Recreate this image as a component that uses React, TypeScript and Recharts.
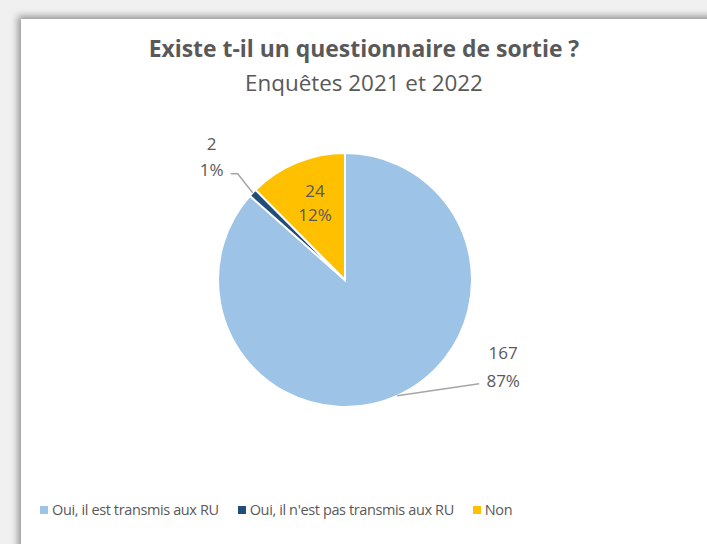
import { PieChart, Pie, Cell } from 'recharts';

const categories = ['Oui, il est transmis aux RU', "Oui, il n'est pas transmis aux RU", 'Non'];
const counts = [167, 2, 24];
const colors = ['#9DC3E6', '#1F4E79', '#FFC000'];

const data = categories.map((name, i) => ({ name, value: counts[i] }));

const TEXT = '#595959';
const FONT = '"Open Sans", "Noto Sans", sans-serif';
const RAD = Math.PI / 180;

function renderLabel(props: any) {
  const { cx, cy, midAngle, outerRadius, value, percent, index } = props;
  const cos = Math.cos(-midAngle * RAD);
  const sin = Math.sin(-midAngle * RAD);
  const pct = Math.round(percent * 100) + '%';
  const style = { fontFamily: FONT, fontSize: 17, fill: TEXT };

  if (index === 2) {
    // inside the yellow slice
    const x = cx + outerRadius * 0.62 * cos;
    const y = cy + outerRadius * 0.62 * sin;
    return (
      <g>
        <text x={x} y={y - 10} textAnchor="middle" style={style}>{value}</text>
        <text x={x} y={y + 14} textAnchor="middle" style={style}>{pct}</text>
      </g>
    );
  }

  const sx = cx + outerRadius * cos;
  const sy = cy + outerRadius * sin;
  if (index === 0) {
    const ex = sx + 82;
    const ey = sy - 12;
    return (
      <g>
        <polyline points={`${sx},${sy} ${ex},${ey}`} stroke="#A6A6A6" strokeWidth={1.5} fill="none" />
        <text x={ex + 24} y={ey - 25} textAnchor="middle" style={style}>{value}</text>
        <text x={ex + 24} y={ey + 3} textAnchor="middle" style={style}>{pct}</text>
      </g>
    );
  }
  // small dark slice, label up-left
  const mx = sx - 15;
  const my = sy - 19;
  return (
    <g>
      <polyline points={`${sx},${sy} ${mx},${my} ${mx - 7},${my}`} stroke="#A6A6A6" strokeWidth={1.5} fill="none" />
      <text x={mx - 26} y={my - 24} textAnchor="middle" style={style}>{value}</text>
      <text x={mx - 26} y={my + 2} textAnchor="middle" style={style}>{pct}</text>
    </g>
  );
}

export default function App() {
  return (
    <div style={{ position: 'absolute', left: 0, top: 0, width: 707, height: 544, background: '#f0f0f0', overflow: 'hidden' }}>
      <div
        style={{
          position: 'absolute',
          left: 21,
          top: 19,
          width: 700,
          height: 540,
          background: '#ffffff',
          boxShadow: '-3px -3px 7px rgba(0,0,0,0.38)',
        }}
      />
      <div style={{ position: 'absolute', left: 0, top: 0 }}>
        <PieChart width={707} height={544} margin={{ top: 0, right: 0, bottom: 0, left: 0 }}>
          <Pie
            data={data}
            dataKey="value"
            nameKey="name"
            cx={345}
            cy={280}
            outerRadius={127}
            startAngle={90}
            endAngle={-270}
            stroke="#ffffff"
            strokeWidth={2}
            label={renderLabel}
            labelLine={false}
            isAnimationActive={false}
          >
            {data.map((d, i) => (
              <Cell key={d.name} fill={colors[i]} />
            ))}
          </Pie>
        </PieChart>
      </div>
      <div style={{ position: 'absolute', left: 21, width: 686, top: 34, textAlign: 'center', fontFamily: FONT, color: TEXT }}>
        <div style={{ fontSize: 22.9, fontWeight: 700, lineHeight: '30px' }}>Existe t-il un questionnaire de sortie ?</div>
        <div style={{ fontSize: 22.4, lineHeight: '30px', marginTop: 4 }}>Enquêtes 2021 et 2022</div>
      </div>
      <div
        style={{
          position: 'absolute',
          left: 40,
          top: 500,
          display: 'flex',
          alignItems: 'center',
          fontFamily: FONT,
          fontSize: 14.5,
          letterSpacing: -0.38,
          color: TEXT,
          whiteSpace: 'nowrap',
        }}
      >
        {categories.map((c, i) => (
          <div key={c} style={{ display: 'flex', alignItems: 'center', marginRight: 19 }}>
            <span style={{ display: 'inline-block', width: 8, height: 8, background: colors[i], marginRight: 4 }} />
            <span>{c}</span>
          </div>
        ))}
      </div>
    </div>
  );
}
